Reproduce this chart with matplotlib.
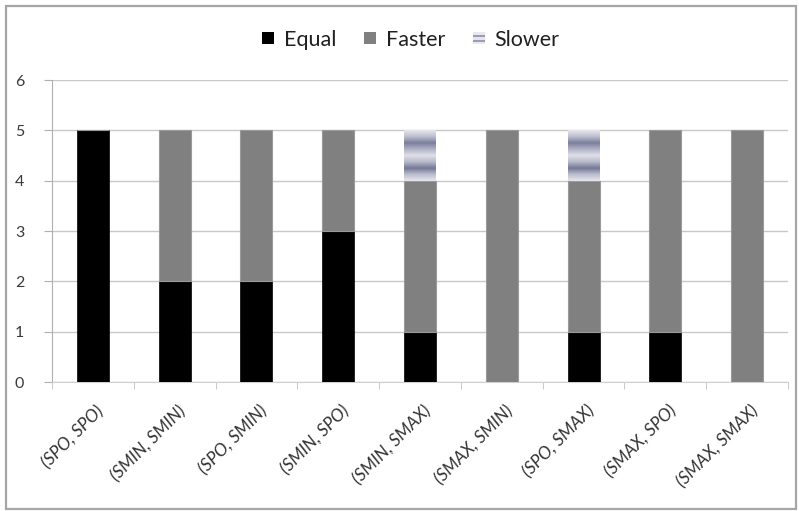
import numpy as np
import matplotlib
matplotlib.use("Agg")
import matplotlib.pyplot as plt
from matplotlib.patches import Rectangle
from matplotlib.legend_handler import HandlerBase
import matplotlib.transforms as mtransforms

categories = ["(SPO, SPO)", "(SMIN, SMIN)", "(SPO, SMIN)", "(SMIN, SPO)", "(SMIN, SMAX)",
              "(SMAX, SMIN)", "(SPO, SMAX)", "(SMAX, SPO)", "(SMAX, SMAX)"]
equal = [5, 2, 2, 3, 1, 0, 1, 1, 0]
faster = [0, 3, 3, 2, 3, 5, 3, 4, 5]
slower = [0, 0, 0, 0, 1, 0, 1, 0, 0]
y_ticks = [0, 1, 2, 3, 4, 5, 6]

plt.rcParams['font.family'] = ['Lato', 'DejaVu Sans']

# banded blue-grey fill used for the "Slower" segments
band_profile = np.array([0.05, 0.35, 0.85, 0.45, 0.1, 0.4, 0.9, 0.35, 0.05])
light = np.array([0.93, 0.93, 0.95])
dark = np.array([0.40, 0.42, 0.55])
yy = np.linspace(0, 1, 200)
vals = np.interp(yy, np.linspace(0, 1, len(band_profile)), band_profile)
band_img = (light[None, :] * (1 - vals[:, None]) + dark[None, :] * vals[:, None])[:, None, :]

fig = plt.figure(figsize=(7.99, 5.11), dpi=100)
fig.patch.set_facecolor("white")
# outer frame
fig.add_artist(Rectangle((6 / 799, 2 / 511), 790 / 799, 503 / 511, transform=fig.transFigure,
                         fill=False, edgecolor="#a6a6a6", linewidth=1.6))

ax = fig.add_axes([52 / 799, (511 - 382) / 511, (788 - 52) / 799, (382 - 80) / 511])
x = np.arange(len(categories))
w = 0.39

ax.bar(x, equal, w, color="black", edgecolor="black", linewidth=0.5, zorder=3, label="Equal")
ax.bar(x, faster, w, bottom=equal, color="#808080", edgecolor="#9a9a9a", linewidth=0.8,
       zorder=3, label="Faster")
bottoms = np.array(equal) + np.array(faster)
slow_bars = ax.bar(x, slower, w, bottom=bottoms, color="none", edgecolor="none",
                   zorder=3, label="Slower")
for p, v in zip(slow_bars.patches, slower):
    if v <= 0:
        continue
    im = ax.imshow(band_img, aspect="auto", origin="upper",
                   extent=(p.get_x(), p.get_x() + p.get_width(), p.get_y(), p.get_y() + p.get_height()),
                   zorder=3, interpolation="bilinear")
    im.set_clip_path(p)

ax.set_xlim(-0.5, len(categories) - 0.5)
ax.set_ylim(0, 6)
ax.set_yticks(y_ticks)
ax.set_yticklabels([str(t) for t in y_ticks], fontsize=11.5, color="#3a3a3a")
ax.yaxis.grid(True, color="#c8c8c8", linewidth=1.0, zorder=0)
ax.set_axisbelow(True)
for s in ["top", "right"]:
    ax.spines[s].set_visible(False)
ax.spines["left"].set_color("#b0b0b0")
ax.spines["bottom"].set_color("#d0d0d0")
ax.tick_params(axis="y", length=6, color="#b0b0b0", pad=14)

ax.set_xticks(x)
ax.set_xticklabels(categories, rotation=45, ha="right", rotation_mode="anchor",
                   fontsize=12.5, style="italic", color="#333333")
ax.set_xticks(np.arange(-0.5, len(categories)), minor=True)
ax.tick_params(axis="x", which="major", length=0, pad=15)
ax.tick_params(axis="x", which="minor", length=5, color="#c0c0c0")
offset = mtransforms.ScaledTranslation(3 / 100, 0, fig.dpi_scale_trans)
for lbl in ax.get_xticklabels():
    lbl.set_transform(lbl.get_transform() + offset)


class BandHandler(HandlerBase):
    def create_artists(self, legend, orig_handle, xdescent, ydescent, width, height, fontsize, trans):
        side = height * 0.8
        x0 = xdescent + (width - side) / 2
        y0 = -ydescent + (height - side) / 2
        arts = []
        cols = ["#e8e8ee", "#9a9eb4", "#e4e4ea", "#9a9eb4", "#e8e8ee"]
        n = len(cols)
        for i, c in enumerate(cols):
            r = Rectangle((x0, y0 + side * i / n), side, side / n, facecolor=c, edgecolor="none",
                          transform=trans)
            arts.append(r)
        return arts


class SquareHandler(HandlerBase):
    def create_artists(self, legend, orig_handle, xdescent, ydescent, width, height, fontsize, trans):
        side = height * 0.8
        x0 = xdescent + (width - side) / 2
        y0 = -ydescent + (height - side) / 2
        return [Rectangle((x0, y0), side, side, facecolor=orig_handle.get_facecolor(),
                          edgecolor="none", transform=trans)]


h_eq = Rectangle((0, 0), 1, 1, facecolor="black")
h_fa = Rectangle((0, 0), 1, 1, facecolor="#808080")
h_sl = Rectangle((0, 0), 1, 1, facecolor="#aaaaaa")
fig.legend([h_eq, h_fa, h_sl], ["Equal", "Faster", "Slower"], loc="center",
           bbox_to_anchor=(410 / 799, 1 - 40 / 511), ncol=3, frameon=False, fontsize=15.5,
           handler_map={h_eq: SquareHandler(), h_fa: SquareHandler(), h_sl: BandHandler()},
           handlelength=0.7, handletextpad=0.4, columnspacing=1.2, labelcolor="#202020")

fig.savefig("out.png", dpi=100)
